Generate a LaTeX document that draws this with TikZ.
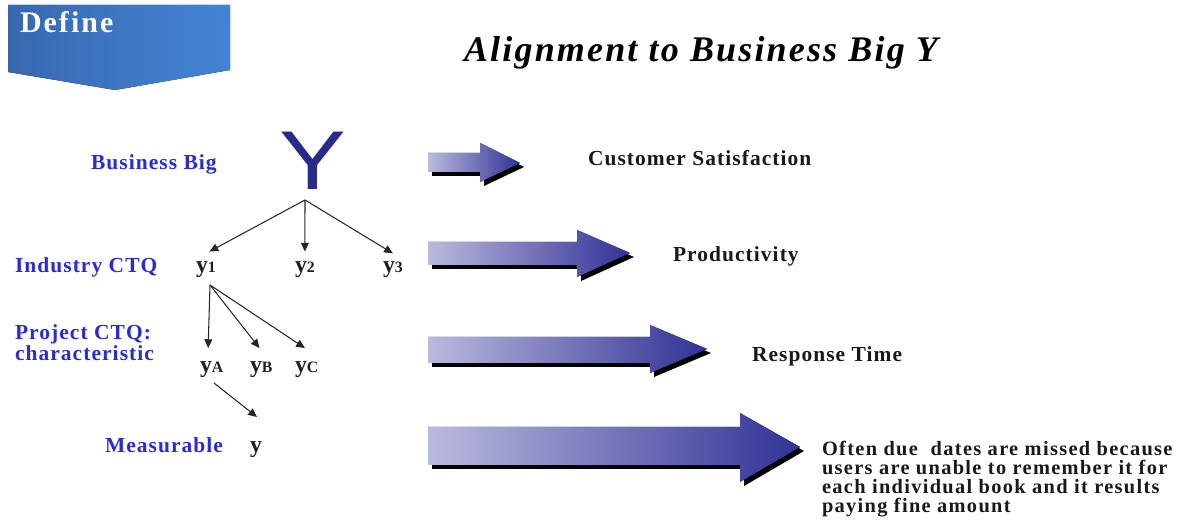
\documentclass[tikz,border=0pt]{standalone}
\usepackage{fontspec}
\setmainfont{Liberation Serif}
\newfontfamily\bigyfont[FakeStretch=1.2]{Liberation Sans}
\usetikzlibrary{positioning,arrows.meta}
\definecolor{capblue}{RGB}{42,42,214}
\definecolor{bandlight}{RGB}{186,186,222}
\definecolor{banddark}{RGB}{50,50,150}
\definecolor{phaseleft}{RGB}{56,104,176}
\definecolor{phaseright}{RGB}{68,132,212}
\definecolor{bigy}{RGB}{42,42,140}

\begin{document}
\begin{tikzpicture}[x=0.02cm, y=-0.02cm,
      every node/.style={inner sep=0pt, outer sep=0pt},
      tag/.style={text=capblue, font=\bfseries\fontsize{12.2}{10.9}\selectfont\addfontfeature{LetterSpace=5}, align=left},
      yvar/.style={text=black!88, font=\bfseries\fontsize{13.5}{14}\selectfont},
      gain/.style={text=black!90, font=\bfseries\fontsize{12.2}{10.9}\selectfont\addfontfeature{LetterSpace=5}, align=left},
      arr/.style={-{Triangle[length=5pt, width=4.5pt]}, line width=0.6pt, black!85},
      band/.style={left color=bandlight, right color=banddark},
      bandshadow/.style={fill=black},
    ]
    \useasboundingbox (0,0) rectangle (1194,523);
    % phase banner in the top left corner
    \fill[left color=phaseleft, right color=phaseright]
      (8,5) -- (230,5) -- (230,70) -- (115,90) -- (8,72) -- cycle;
    \node[anchor=base west, text=white, font=\bfseries\fontsize{17}{18}\selectfont\addfontfeature{LetterSpace=7}]
      (phase) at (20,33) {Define};
    \node[anchor=base, font=\bfseries\itshape\fontsize{20.5}{24}\selectfont\addfontfeature{LetterSpace=6}]
      (title) at (701,62) {Alignment to Business Big Y};
    % the tree of Ys
    \node[anchor=base, text=bigy, font=\bigyfont\fontsize{47.5}{48}\selectfont]
      (bigY) at (313,190) {Y};
    \node[tag, anchor=base west] (lbig) at (91,170) {Business Big};
    \node[tag, anchor=base west] (lind) at (15,273) {Industry CTQ};
    \node[yvar, anchor=base west] (y1) at (196,273) {y{\small 1}};
    \node[yvar, anchor=base west] (y2) at (295,273) {y{\small 2}};
    \node[yvar, anchor=base west] (y3) at (383,273) {y{\small 3}};
    \node[tag, anchor=base west] (lproj) at (15,361) {Project CTQ:\\characteristic};
    \node[yvar, anchor=base west] (yA) at (200,373) {y{\small A}};
    \node[yvar, anchor=base west] (yB) at (250,373) {y{\small B}};
    \node[yvar, anchor=base west] (yC) at (295,373) {y{\small C}};
    \node[tag, anchor=base west] (lmeas) at (105,453) {Measurable};
    \node[yvar, anchor=base west] (ym) at (250,453) {y};
    \coordinate (fork) at (305,200);
    \coordinate (split) at (210,285);
    \coordinate (drop) at (214,383);
    \coordinate (dropend) at (257,417);
    \draw[arr] (fork) -- ([xshift=2pt, yshift=6pt]y1.north);
    \draw[arr] (fork) -- ([yshift=6pt]y2.north);
    \draw[arr] (fork) -- ([yshift=5pt]y3.north);
    \draw[arr] (split) -- ([xshift=-2pt, yshift=8pt]yA.north);
    \draw[arr] (split) -- ([xshift=-1pt, yshift=8pt]yB.north);
    \draw[arr] (split) -- ([xshift=-1pt, yshift=8pt]yC.north);
    \draw[arr] (drop) -- (dropend);
    % broad arrows, shadow first
    \fill[bandshadow] (432,157) -- (484,157) -- (484,147) -- (524,167) -- (484,186) -- (484,176) -- (432,176) -- cycle;
    \fill[band] (428,153) -- (480,153) -- (480,143) -- (520,163) -- (480,182) -- (480,172) -- (428,172) -- cycle;
    \fill[bandshadow] (432,246) -- (581,246) -- (581,234) -- (634,257) -- (581,281) -- (581,269) -- (432,269) -- cycle;
    \fill[band] (428,242) -- (577,242) -- (577,230) -- (630,253) -- (577,277) -- (577,265) -- (428,265) -- cycle;
    \fill[bandshadow] (432,341) -- (654,341) -- (654,329) -- (711,353) -- (654,377) -- (654,367) -- (432,367) -- cycle;
    \fill[band] (428,337) -- (650,337) -- (650,325) -- (707,349) -- (650,373) -- (650,363) -- (428,363) -- cycle;
    \fill[bandshadow] (432,431) -- (744,431) -- (744,417) -- (804,451) -- (744,486) -- (744,469) -- (432,469) -- cycle;
    \fill[band] (428,427) -- (740,427) -- (740,413) -- (800,447) -- (740,482) -- (740,465) -- (428,465) -- cycle;
    % what each level stands for
    \node[gain, anchor=base west] (csat) at (588,166) {Customer Satisfaction};
    \node[gain, anchor=base west] (prod) at (673,262) {Productivity};
    \node[gain, anchor=base west] (resp) at (752,362) {Response Time};
    \node[gain, anchor=base west, font=\bfseries\fontsize{11.6}{10.9}\selectfont\addfontfeature{LetterSpace=6.5}]
      (fine) at (822,513) {Often due\ \ dates are missed because\\
      users are unable to remember it for\\each individual book and it results\\paying fine amount};
  \end{tikzpicture}
\end{document}
